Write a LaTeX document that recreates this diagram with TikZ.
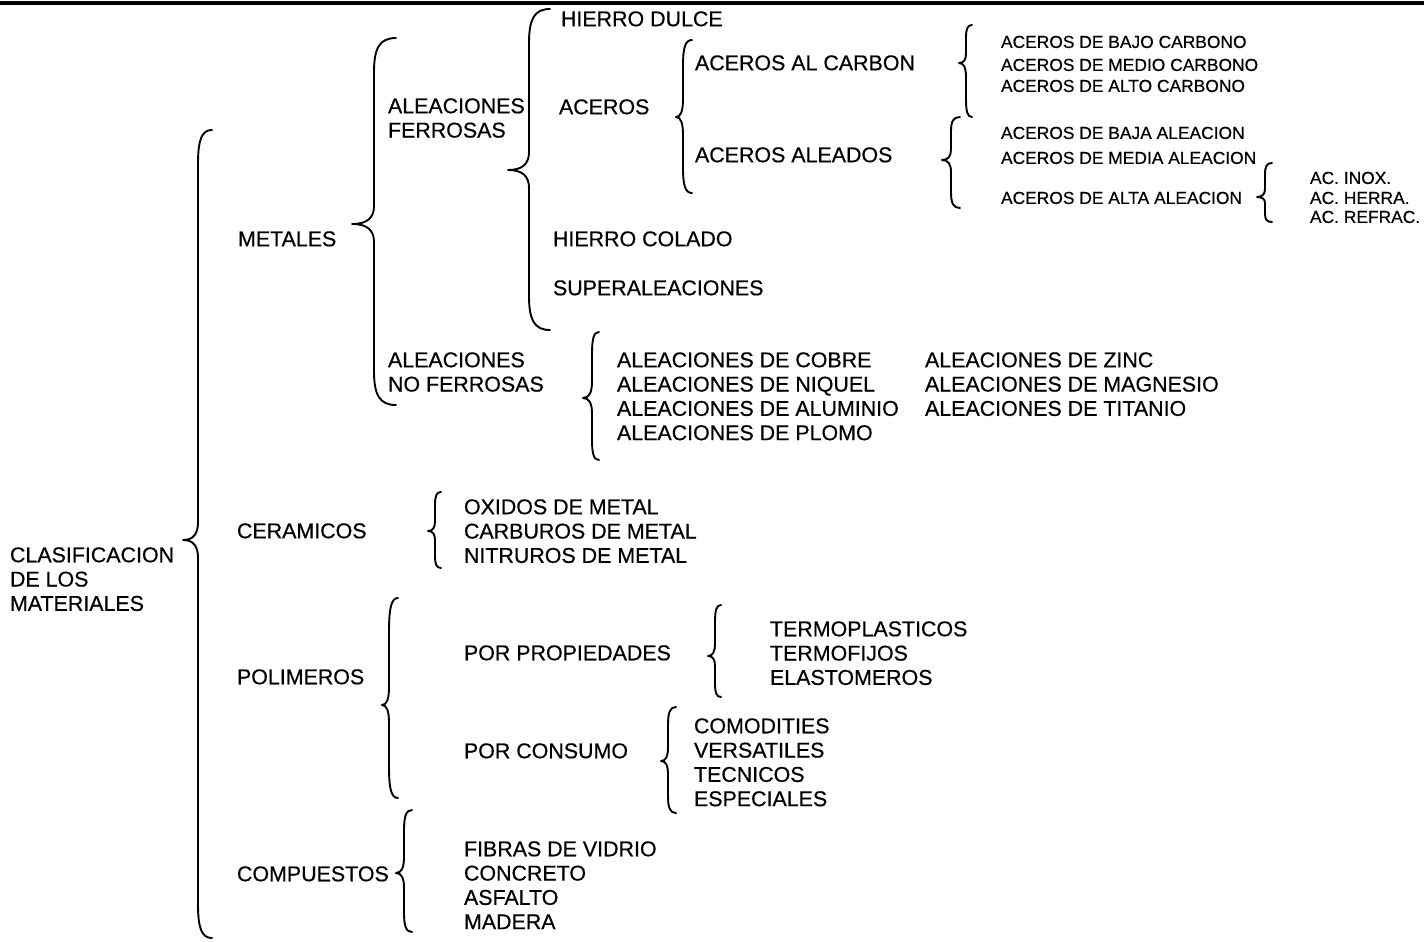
\documentclass[tikz,border=0pt]{standalone}
\usepackage{fontspec}
\setmainfont{Liberation Sans}[UprightFeatures={FakeBold=0.5}]
\newcommand{\fbig}{\fontsize{10.7}{12.15}\selectfont}
\newcommand{\fsml}{\fontsize{8.7}{10}\selectfont}
% brace: #1 vertical x, #2 top y, #3 tip x, #4 tip y, #5 bottom y, #6 end x
\newcommand{\brc}[6]{%
  \pgfmathsetmacro\ra{min(34,(#4-#2)/3)}%
  \pgfmathsetmacro\rb{min(34,(#5-#4)/3)}%
  \pgfmathsetmacro\ta{min(18,(#4-#2)/4)}%
  \pgfmathsetmacro\tb{min(18,(#5-#4)/4)}%
  \draw[bracestyle] (#6,#2) .. controls ({#1+0.25*(#6-#1)},#2) and (#1,#2+0.3*\ra) .. (#1,#2+\ra)
    -- (#1,#4-\ta) .. controls (#1,#4-0.35*\ta) and ({#1-0.3*(#1-#3)},#4) .. (#3,#4)
    .. controls ({#1-0.3*(#1-#3)},#4) and (#1,#4+0.35*\tb) .. (#1,#4+\tb)
    -- (#1,#5-\rb) .. controls (#1,#5-0.3*\rb) and ({#1+0.25*(#6-#1)},#5) .. (#6,#5);}
\tikzset{
  bracestyle/.style={line width=0.95pt, line cap=round, line join=round},
  txt/.style={anchor=north west, inner sep=0pt, outer sep=0pt, align=left, font=\fbig},
  stxt/.style={anchor=north west, inner sep=0pt, outer sep=0pt, align=left, font=\fsml},
}
\begin{document}
\begin{tikzpicture}[x=0.5pt,y=-0.5pt]
\useasboundingbox (0,0) rectangle (1424,942);
% top rule
\draw[line width=1.6pt] (0,3) -- (1424,3);

% braces
\brc{198}{130}{183}{540}{938}{212}
\brc{374}{38}{352}{224}{405}{396}
\brc{529}{9}{508}{170}{330}{550}
\brc{683}{40}{676}{117}{193}{692}
\brc{966}{25}{959}{63}{117}{972}
\brc{951}{117}{942}{160}{208}{960}
\brc{1265}{163}{1257}{197}{222}{1272}
\brc{592}{332}{583}{398}{460}{599}
\brc{435}{492}{428}{531}{568}{441}
\brc{389}{598}{382}{705}{798}{398}
\brc{715}{605}{708}{656}{697}{721}
\brc{668}{707}{661}{761}{813}{676}
\brc{404}{810}{396}{873}{932}{412}

% big text
\node[txt] (cla) at (10,547.3) {CLASIFICACION\\DE LOS\\MATERIALES};
\node[txt] (met) at (238,231.3) {METALES};
\node[txt] (af) at (388,98.3) {ALEACIONES\\FERROSAS};
\node[txt] (hd) at (561,11.3) {HIERRO DULCE};
\node[txt] (ac) at (559,99.3) {ACEROS};
\node[txt] (acc) at (695,55.3) {ACEROS AL CARBON};
\node[txt] (aca) at (695,147.3) {ACEROS ALEADOS};
\node[txt] (hc) at (553,231.3) {HIERRO COLADO};
\node[txt] (sup) at (553,280.3) {SUPERALEACIONES};
\node[txt] (anf) at (388,352.3) {ALEACIONES\\NO FERROSAS};
\node[txt] (nfa) at (617,352.3) {ALEACIONES DE COBRE\\ALEACIONES DE NIQUEL\\ALEACIONES DE ALUMINIO\\ALEACIONES DE PLOMO};
\node[txt] (nfb) at (925,352.3) {ALEACIONES DE ZINC\\ALEACIONES DE MAGNESIO\\ALEACIONES DE TITANIO};
\node[txt] (cer) at (237,523.3) {CERAMICOS};
\node[txt] (cerl) at (464,499.3) {OXIDOS DE METAL\\CARBUROS DE METAL\\NITRUROS DE METAL};
\node[txt] (pol) at (237,669.3) {POLIMEROS};
\node[txt] (pp) at (464,645.3) {POR PROPIEDADES};
\node[txt] (ppl) at (770,621.3) {TERMOPLASTICOS\\TERMOFIJOS\\ELASTOMEROS};
\node[txt] (pc) at (464,743.3) {POR CONSUMO};
\node[txt] (pcl) at (694,718.3) {COMODITIES\\VERSATILES\\TECNICOS\\ESPECIALES};
\node[txt] (com) at (237,866.3) {COMPUESTOS};
\node[txt] (coml) at (464,841.3) {FIBRAS DE VIDRIO\\CONCRETO\\ASFALTO\\MADERA};

% small text
\node[stxt] (bc) at (1001,35.8) {ACEROS DE BAJO CARBONO};
\node[stxt] (mc) at (1001,58.8) {ACEROS DE MEDIO CARBONO};
\node[stxt] (ac2) at (1001,79.8) {ACEROS DE ALTO CARBONO};
\node[stxt] (ba) at (1001,126.8) {ACEROS DE BAJA ALEACION};
\node[stxt] (ma) at (1001,151.8) {ACEROS DE MEDIA ALEACION};
\node[stxt] (aa) at (1001,191.8) {ACEROS DE ALTA ALEACION};
\node[stxt] (inox) at (1310,171.8) {AC. INOX.};
\node[stxt] (herra) at (1310,191.8) {AC. HERRA.};
\node[stxt] (refr) at (1310,210.8) {AC. REFRAC.};
\end{tikzpicture}
\end{document}
